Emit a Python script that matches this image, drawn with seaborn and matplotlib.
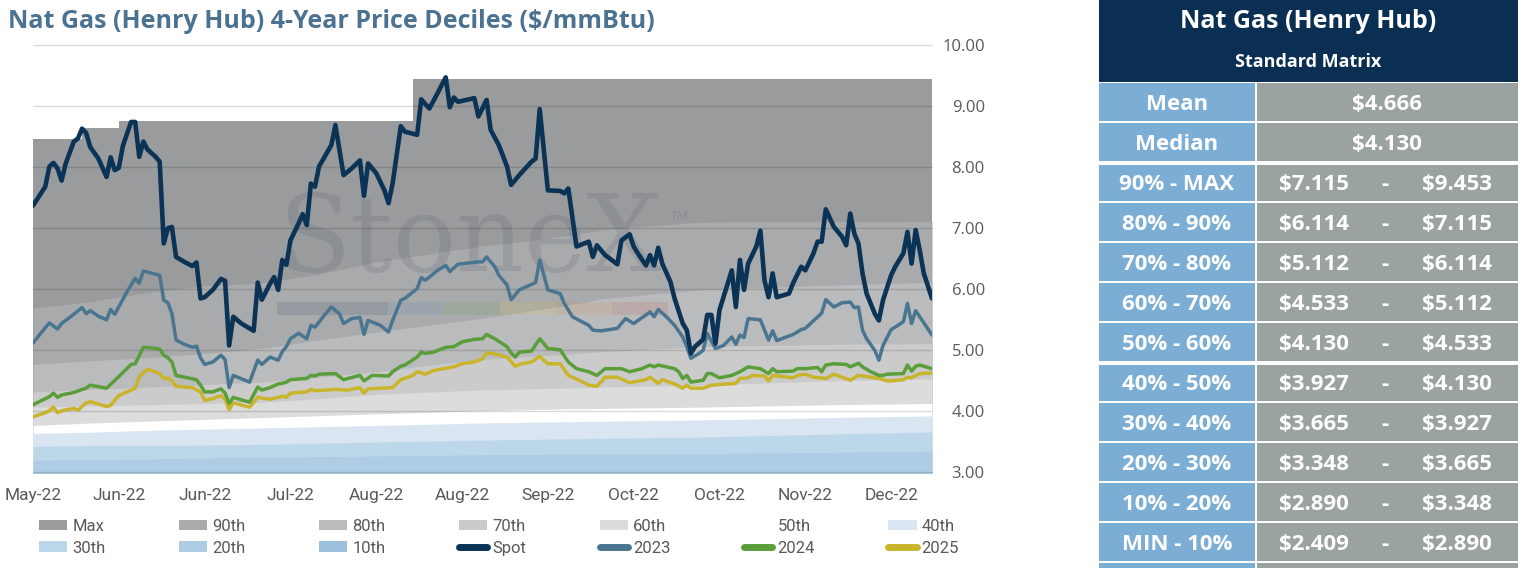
import pandas as pd
import seaborn as sns
import matplotlib.pyplot as plt
from matplotlib.patches import Patch, Rectangle
from matplotlib.lines import Line2D

START = "2022-05-11"

# ---- price lines: calendar-day offset from START, $/mmBtu
spot_days = [0, 3, 4, 5, 6, 7, 8, 10, 11, 12, 13, 14, 16, 18, 19, 20, 21, 22, 24, 25,
             26, 27, 28, 30, 31, 32, 33, 34, 35, 37, 39, 40, 41, 42, 44, 46, 47, 48, 49, 51,
             54, 55, 56, 58, 59, 60, 61, 62, 63, 65, 66, 67, 68, 69, 70, 73, 74, 76, 78, 80,
             81, 82, 84, 86, 87, 88, 90, 91, 94, 95, 97, 99, 101, 102, 103, 104, 106, 108, 109, 111,
             112, 114, 116, 117, 119, 122, 123, 124, 126, 129, 130, 131, 133, 136, 137, 138, 140, 143, 144, 146,
             147, 148, 150, 151, 152, 153, 154, 156, 157, 159, 160, 161, 162, 164, 165, 166, 167, 168, 171, 172,
             173, 174, 175, 177, 178, 179, 180, 181, 182, 185, 186, 188, 189, 191, 192, 193, 194, 196, 198, 199,
             200, 201, 202, 203, 204, 206, 207, 208, 210, 211, 213, 214, 215, 216, 217, 218, 220]
spot_vals = [7.37, 7.68, 8.01, 8.07, 7.98, 7.78, 8.06, 8.42, 8.47, 8.63, 8.56, 8.33, 8.14, 7.84, 8.16, 7.95, 7.99, 8.35, 8.74, 8.74,
             8.17, 8.42, 8.29, 8.17, 8.09, 6.75, 7.00, 7.02, 6.53, 6.45, 6.38, 6.44, 5.85, 5.87, 5.99, 6.17, 6.14, 5.08, 5.55, 5.44,
             5.32, 6.11, 5.83, 6.09, 6.20, 5.99, 6.48, 6.40, 6.80, 7.08, 7.23, 7.05, 7.73, 7.68, 8.01, 8.36, 8.69, 7.87, 7.98, 8.11,
             7.53, 8.06, 7.90, 7.62, 7.41, 7.73, 8.67, 8.58, 8.53, 9.11, 8.96, 9.21, 9.47, 8.98, 9.14, 9.07, 9.10, 9.13, 8.83, 9.10,
             8.61, 8.36, 8.01, 7.71, 7.87, 8.09, 8.14, 8.95, 7.62, 7.61, 7.57, 7.65, 6.70, 6.78, 6.53, 6.72, 6.56, 6.41, 6.80, 6.90,
             6.70, 6.59, 6.39, 6.56, 6.39, 6.68, 6.42, 6.12, 5.85, 5.44, 5.33, 4.95, 5.06, 5.18, 5.58, 5.58, 5.11, 5.66, 6.31, 5.71,
             6.48, 5.99, 6.42, 6.70, 6.96, 6.15, 5.87, 6.26, 5.87, 5.93, 6.10, 6.37, 6.31, 6.59, 6.78, 6.78, 7.31, 7.02, 6.86, 6.72,
             7.24, 6.91, 6.75, 6.26, 5.93, 5.60, 5.49, 5.82, 6.23, 6.37, 6.59, 6.94, 6.42, 6.97, 6.64, 6.26, 5.85]

cal23_days = [0, 3, 4, 6, 7, 9, 12, 13, 14, 16, 18, 19, 20, 23, 25, 26, 27, 28, 31, 32,
              33, 34, 35, 37, 39, 40, 41, 42, 44, 46, 47, 48, 49, 53, 55, 56, 58, 60, 61, 62,
              63, 65, 67, 68, 69, 71, 73, 75, 76, 78, 80, 81, 82, 85, 87, 88, 90, 91, 94, 95,
              96, 97, 99, 101, 102, 104, 109, 110, 111, 113, 114, 116, 117, 119, 122, 123, 124, 126, 129, 130,
              132, 136, 137, 139, 143, 145, 147, 150, 151, 152, 153, 155, 157, 159, 160, 161, 163, 164, 165, 167,
              169, 171, 172, 173, 174, 175, 178, 180, 181, 182, 186, 188, 189, 193, 194, 196, 198, 200, 201, 202,
              203, 204, 206, 207, 208, 210, 211, 213, 214, 215, 216, 220]
cal23_vals = [5.12, 5.37, 5.45, 5.35, 5.44, 5.54, 5.70, 5.60, 5.65, 5.56, 5.50, 5.67, 5.59, 5.96, 6.18, 6.10, 6.30, 6.28, 6.23, 5.82,
              5.78, 5.60, 5.17, 5.10, 5.05, 5.07, 4.88, 4.77, 4.81, 4.92, 4.85, 4.39, 4.59, 4.48, 4.84, 4.77, 4.89, 4.84, 4.98, 5.06,
              5.19, 5.28, 5.19, 5.41, 5.38, 5.55, 5.71, 5.60, 5.44, 5.52, 5.54, 5.26, 5.49, 5.41, 5.30, 5.49, 5.82, 5.85, 6.01, 6.19,
              6.15, 6.20, 6.31, 6.39, 6.29, 6.41, 6.45, 6.45, 6.53, 6.37, 6.23, 6.07, 5.83, 5.99, 6.08, 6.11, 6.48, 5.99, 5.93, 5.77,
              5.55, 5.41, 5.33, 5.32, 5.36, 5.52, 5.44, 5.58, 5.63, 5.55, 5.67, 5.55, 5.41, 5.22, 5.06, 4.87, 4.95, 5.00, 5.28, 5.03,
              5.08, 5.22, 5.10, 5.25, 5.21, 5.52, 5.50, 5.17, 5.32, 5.16, 5.26, 5.34, 5.36, 5.61, 5.83, 5.71, 5.78, 5.79, 5.70, 5.71,
              5.33, 5.19, 5.00, 4.84, 5.08, 5.34, 5.38, 5.47, 5.77, 5.44, 5.65, 5.25]

cal24_days = [0, 4, 5, 6, 7, 10, 12, 13, 14, 18, 21, 24, 25, 27, 29, 31, 32, 33, 34, 35,
              40, 41, 42, 44, 46, 47, 48, 49, 53, 55, 56, 58, 60, 61, 62, 63, 67, 68, 69, 70,
              74, 76, 80, 81, 83, 87, 88, 90, 91, 94, 95, 96, 98, 101, 103, 105, 108, 110, 111, 113,
              116, 117, 118, 119, 122, 124, 126, 129, 131, 133, 136, 138, 140, 144, 146, 149, 151, 152, 153, 157,
              158, 159, 160, 161, 164, 165, 166, 168, 171, 173, 175, 178, 180, 181, 182, 186, 187, 189, 192, 193,
              194, 196, 199, 200, 202, 203, 205, 207, 208, 209, 213, 214, 215, 216, 217, 220]
cal24_vals = [4.11, 4.24, 4.30, 4.23, 4.27, 4.31, 4.36, 4.38, 4.43, 4.38, 4.57, 4.77, 4.78, 5.05, 5.04, 5.02, 4.92, 4.88, 4.81, 4.59,
              4.52, 4.43, 4.32, 4.32, 4.37, 4.30, 4.13, 4.23, 4.15, 4.40, 4.35, 4.39, 4.45, 4.46, 4.48, 4.52, 4.54, 4.59, 4.58, 4.61,
              4.62, 4.52, 4.59, 4.50, 4.59, 4.58, 4.65, 4.74, 4.76, 4.89, 4.97, 4.95, 4.97, 5.05, 5.06, 5.14, 5.18, 5.19, 5.26, 5.19,
              5.06, 4.96, 4.89, 4.97, 4.99, 5.19, 5.03, 5.01, 4.81, 4.70, 4.65, 4.59, 4.70, 4.70, 4.65, 4.70, 4.76, 4.73, 4.76, 4.70,
              4.65, 4.54, 4.59, 4.48, 4.51, 4.62, 4.62, 4.55, 4.59, 4.65, 4.73, 4.70, 4.62, 4.70, 4.65, 4.66, 4.70, 4.70, 4.72, 4.65,
              4.76, 4.78, 4.77, 4.73, 4.79, 4.73, 4.65, 4.59, 4.59, 4.61, 4.62, 4.76, 4.66, 4.74, 4.76, 4.70]

cal25_days = [0, 3, 4, 5, 6, 7, 10, 11, 13, 14, 18, 19, 21, 23, 25, 26, 28, 31, 32, 33,
              34, 35, 39, 41, 42, 44, 46, 47, 48, 49, 53, 55, 58, 60, 61, 62, 63, 67, 68, 69,
              74, 77, 80, 81, 82, 88, 90, 91, 93, 94, 96, 98, 103, 105, 108, 110, 111, 113, 116, 118,
              119, 122, 124, 126, 129, 131, 134, 136, 138, 140, 143, 146, 150, 151, 153, 154, 157, 159, 160, 161,
              164, 166, 172, 173, 175, 176, 179, 180, 181, 186, 187, 189, 191, 194, 196, 198, 200, 202, 206, 207,
              209, 210, 213, 214, 215, 217, 220]
cal25_vals = [3.91, 3.98, 4.01, 4.07, 3.98, 4.01, 4.05, 4.02, 4.14, 4.16, 4.08, 4.10, 4.26, 4.32, 4.38, 4.57, 4.69, 4.62, 4.54, 4.55,
              4.50, 4.41, 4.39, 4.32, 4.18, 4.21, 4.26, 4.20, 4.03, 4.14, 4.07, 4.23, 4.20, 4.23, 4.25, 4.23, 4.30, 4.32, 4.36, 4.34,
              4.36, 4.35, 4.39, 4.30, 4.37, 4.39, 4.52, 4.54, 4.59, 4.65, 4.61, 4.67, 4.73, 4.78, 4.81, 4.86, 4.96, 4.94, 4.89, 4.74,
              4.77, 4.81, 4.90, 4.78, 4.78, 4.59, 4.50, 4.43, 4.41, 4.56, 4.56, 4.47, 4.52, 4.56, 4.46, 4.52, 4.45, 4.38, 4.43, 4.38,
              4.38, 4.43, 4.46, 4.54, 4.55, 4.59, 4.58, 4.50, 4.59, 4.55, 4.59, 4.61, 4.56, 4.54, 4.61, 4.56, 4.51, 4.59, 4.55, 4.54,
              4.50, 4.50, 4.52, 4.56, 4.55, 4.62, 4.63]

# ---- 4-year decile bands (top edge of each band)
max_days = [0, 12, 21, 93, 220]
max_vals = [8.46, 8.64, 8.76, 9.44, 9.44]
band_days = [0, 14, 28, 42, 56, 70, 84, 109, 129, 140, 163, 196, 220]
p90 = [5.69, 5.80, 5.95, 6.06, 6.10, 6.25, 6.45, 6.70, 6.86, 6.98, 7.10, 7.11, 7.115]
p80 = [4.77, 4.83, 4.88, 4.95, 5.03, 5.17, 5.30, 5.52, 5.72, 5.85, 5.99, 6.07, 6.114]
p70 = [4.32, 4.36, 4.40, 4.44, 4.48, 4.56, 4.65, 4.85, 4.93, 4.98, 5.06, 5.10, 5.112]
p60 = [4.07, 4.09, 4.11, 4.13, 4.15, 4.21, 4.28, 4.35, 4.38, 4.40, 4.43, 4.50, 4.533]
p50 = [3.77, 3.81, 3.84, 3.87, 3.90, 3.93, 3.96, 4.01, 4.04, 4.05, 4.07, 4.11, 4.13]
p40 = [3.64, 3.66, 3.69, 3.71, 3.73, 3.75, 3.77, 3.81, 3.83, 3.84, 3.86, 3.90, 3.927]
p30 = [3.43, 3.44, 3.44, 3.45, 3.46, 3.48, 3.50, 3.53, 3.55, 3.56, 3.58, 3.63, 3.665]
p20 = [3.20, 3.21, 3.22, 3.24, 3.25, 3.26, 3.27, 3.29, 3.30, 3.30, 3.31, 3.33, 3.348]
p10 = [2.70, 2.71, 2.72, 2.74, 2.75, 2.77, 2.78, 2.80, 2.82, 2.83, 2.85, 2.87, 2.89]

tick_days = [0, 21, 42, 63, 84, 105, 126, 147, 168, 189, 210]
tick_labels = ["May-22", "Jun-22", "Jun-22", "Jul-22", "Aug-22", "Aug-22",
               "Sep-22", "Oct-22", "Oct-22", "Nov-22", "Dec-22"]
y_ticks = [3, 4, 5, 6, 7, 8, 9, 10]

# ---- standard matrix table
table_title = "Nat Gas (Henry Hub)"
table_subtitle = "Standard Matrix"
stat_labels = ["Mean", "Median"]
stat_values = [4.666, 4.130]
range_labels = ["90% - MAX", "80% - 90%", "70% - 80%", "60% - 70%", "50% - 60%",
                "40% - 50%", "30% - 40%", "20% - 30%", "10% - 20%", "MIN - 10%"]
range_low = [7.115, 6.114, 5.112, 4.533, 4.130, 3.927, 3.665, 3.348, 2.890, 2.409]
range_high = [9.453, 7.115, 6.114, 5.112, 4.533, 4.130, 3.927, 3.665, 3.348, 2.890]

NAVY = "#0b2f52"
CELL_BLUE = "#7badd5"
CELL_GRAY = "#9ba2a2"
TICK_COLOR = "#595959"
NARROW = ["Roboto", "DejaVu Sans"]


def to_dates(days):
    return pd.Timestamp(START) + pd.to_timedelta(days, unit="D")


sns.set_theme(style="white")
plt.rcParams["font.family"] = ["Open Sans", "DejaVu Sans"]

fig = plt.figure(figsize=(15.22, 5.68), dpi=100)
ax = fig.add_axes([33 / 1522, 1 - 472.5 / 568, 899 / 1522, 427.5 / 568])

# bands painted top-down, each filled to the floor
bands = [
    ("Max", max_days, max_vals, "#9a9b9d", "post"),
    ("90th", band_days, p90, "#a9aaac", None),
    ("80th", band_days, p80, "#babbbd", None),
    ("70th", band_days, p70, "#cbcbcb", None),
    ("60th", band_days, p60, "#dcdcdc", None),
    ("50th", band_days, p50, "#ffffff", None),
    ("40th", band_days, p40, "#d9e6f2", None),
    ("30th", band_days, p30, "#bdd7ea", None),
    ("20th", band_days, p20, "#aecce3", None),
    ("10th", band_days, p10, "#9bc1df", None),
]
for name, d, v, c, step in bands:
    ax.fill_between(to_dates(d), v, 0, color=c, step=step, lw=0, zorder=1)

# watermark
ax.text(0.486, 0.54, "StoneX", transform=ax.transAxes, ha="center", va="center",
        family="DejaVu Serif", fontsize=76, color="#55606b", alpha=0.2, zorder=1.6)
ax.text(0.72, 0.6, "TM", transform=ax.transAxes, ha="center", va="center",
        fontsize=9, color="#55606b", alpha=0.25, zorder=1.6)
bar_colors = ["#0b2f52", "#4a7fb5", "#5a9e3c", "#e8c22a", "#e88a2a", "#c0392b"]
bar_edges = [0.271, 0.395, 0.456, 0.519, 0.582, 0.644, 0.706]
for k, c in enumerate(bar_colors):
    ax.add_patch(Rectangle((bar_edges[k], 0.368), bar_edges[k + 1] - bar_edges[k], 0.03,
                           transform=ax.transAxes, color=c, alpha=0.13, lw=0, zorder=1.6))

lines = [
    ("Spot", spot_days, spot_vals, "#0b3356", 3.3),
    ("2023", cal23_days, cal23_vals, "#4a7590", 2.5),
    ("2024", cal24_days, cal24_vals, "#5a9e3a", 2.5),
    ("2025", cal25_days, cal25_vals, "#c9b42c", 2.5),
]
for name, d, v, c, lw in reversed(lines):
    sns.lineplot(x=to_dates(d), y=v, ax=ax, color=c, linewidth=lw, estimator=None,
                 sort=False, zorder=4, solid_joinstyle="round", solid_capstyle="round")

ax.set_xlim(to_dates([0])[0], to_dates([220])[0])
ax.set_ylim(3, 10)
ax.set(xlabel=None, ylabel=None)
ax.set_xticks(to_dates(tick_days))
ax.set_xticklabels(tick_labels, family=NARROW, fontsize=12.5, color=TICK_COLOR)
ax.set_yticks(y_ticks)
ax.set_yticklabels([f"{t:.2f}" for t in y_ticks], fontsize=12, color=TICK_COLOR)
ax.yaxis.tick_right()
ax.tick_params(axis="y", length=0, pad=38)
ax.tick_params(axis="x", length=0, pad=11)
for t in ax.yaxis.get_major_ticks():
    t.label2.set_horizontalalignment("right")
ax.set_axisbelow(False)
ax.grid(axis="y", color="black", alpha=0.14, lw=1.0, clip_on=False)
ax.grid(axis="x", visible=False)
for s in ax.spines.values():
    s.set_visible(False)

# legend, row order as in the source
handles = {name: Patch(facecolor=c, edgecolor="none") for name, d, v, c, step in bands}
for name, d, v, c, lw in lines:
    handles[name] = Line2D([], [], color=c, lw=5, solid_capstyle="round")
row1 = ["Max", "90th", "80th", "70th", "60th", "50th", "40th"]
row2 = ["30th", "20th", "10th", "Spot", "2023", "2024", "2025"]
order = [n for pair in zip(row1, row2) for n in pair]
fig.legend([handles[n] for n in order], order, ncol=7, mode="expand",
           loc="upper left", bbox_to_anchor=(39 / 1522, 0, 920 / 1522, 1 - 519 / 568),
           frameon=False, borderaxespad=0, borderpad=0, handlelength=1.7, handleheight=0.6,
           handletextpad=0.3, labelspacing=0.4, prop={"family": NARROW, "size": 12},
           labelcolor=TICK_COLOR)

fig.text(8 / 1522, 1 - 22 / 568, "Nat Gas (Henry Hub) 4-Year Price Deciles ($/mmBtu)",
         ha="left", va="center", fontsize=18, fontweight="bold", color="#4b7391")

# table drawn in pixel space on the right
tab = fig.add_axes([0, 0, 1, 1])
tab.set_xlim(0, 1522)
tab.set_ylim(568, 0)
tab.axis("off")
tab.add_patch(Rectangle((1099, 0), 419, 82, color=NAVY, lw=0))
tab.text(1308, 21, table_title, ha="center", va="center", color="white",
         fontsize=18, fontweight="bold")
tab.text(1308, 62, table_subtitle, ha="center", va="center", color="white",
         fontsize=13, fontweight="bold")

cell_font = dict(ha="center", va="center", color="white", fontsize=16, fontweight="bold")
row_labels = stat_labels + range_labels
for k in range(len(row_labels) + 1):
    top = 83 + 40 * k
    gap = 2 if k in (2, 7) else 0
    tab.add_patch(Rectangle((1099, top + gap), 156, 38 - gap, color=CELL_BLUE, lw=0))
    tab.add_patch(Rectangle((1257, top + gap), 261, 38 - gap, color=CELL_GRAY, lw=0))
    if k >= len(row_labels):
        continue
    yc = top + 22
    tab.text(1177, yc, row_labels[k], **cell_font)
    if k < len(stat_labels):
        tab.text(1387, yc, f"${stat_values[k]:.3f}", **cell_font)
    else:
        j = k - len(stat_labels)
        tab.text(1314, yc, f"${range_low[j]:.3f}", **cell_font)
        tab.text(1385, yc, "-", **cell_font)
        tab.text(1457, yc, f"${range_high[j]:.3f}", **cell_font)

fig.savefig("out.png", dpi=100)
